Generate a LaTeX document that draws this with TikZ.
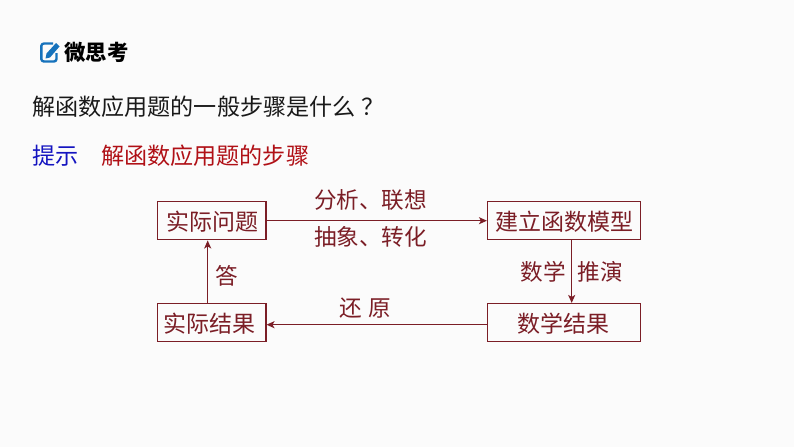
\documentclass[tikz,border=0pt]{standalone}
\usepackage{fontspec}
\setmainfont{Noto Sans CJK SC}
\usetikzlibrary{arrows.meta}
\definecolor{bgc}{HTML}{FBFBFB}
\definecolor{dred}{HTML}{7B1E26}
\definecolor{hintred}{HTML}{B01016}
\definecolor{hintblue}{HTML}{1414C0}
\definecolor{iconblue}{HTML}{1672BC}
\tikzset{
  x=1pt,y=-1pt,
  flowbox/.style={draw=dred,line width=1.5pt,minimum height=38pt,inner sep=0pt,anchor=center,text=dred,font=\fontsize{23}{23}\selectfont,text height=20pt,text depth=0pt},
  flowlabel/.style={text=dred,inner sep=0pt,font=\fontsize{22.6}{23}\selectfont,anchor=center},
  flowarrow/.style={draw=dred,line width=1.4pt,-{Stealth[length=8pt,width=7pt,inset=2pt]}},
  bodytext/.style={inner sep=0pt,anchor=west,font=\fontsize{23.1}{23}\selectfont}
}
\begin{document}
\begin{tikzpicture}
\useasboundingbox[fill=bgc] (0,0) rectangle (794,447);
% icon
\draw[iconblue,line width=2.4pt,line join=round] (53,43.5) -- (44,43.5) to[out=180,in=90] (41.3,46) -- (41.3,59) to[out=270,in=180] (44,61.5) -- (54,61.5) to[out=0,in=270] (56.5,59) -- (56.5,53);
\fill[iconblue] (56,43) -- (59.5,46.5) -- (50,57.5) -- (45.5,58.5) -- (46.5,53.5) -- cycle;
% headings
\node[bodytext,font=\fontsize{21.4}{21}\selectfont\bfseries,text=black] (head) at (64,52) {微思考};
\node[bodytext,text=black!90] (question) at (32,107) {解函数应用题的一般步骤是什么\kern6pt？};
\node[bodytext,text=hintblue] (hint) at (32,156) {提示};
\node[bodytext,text=hintred] (hintbody) at (101,156) {解函数应用题的步骤};
% boxes
\node[flowbox,minimum width=108.5pt] (problem) at (211.5,220.7) {\kern1pt 实际问题};
\node[flowbox,minimum width=152.6pt] (model) at (564,220.7) {\kern1pt 建立函数模型};
\node[flowbox,minimum width=152.6pt] (mathres) at (564,322.7) {数学结果\kern1pt};
\node[flowbox,minimum width=108.5pt] (result) at (211.5,322.7) {实际结果\kern4pt};
% connector anchors
\coordinate (vleft) at (207.7,270);
\coordinate (vright) at (571.7,270);
\coordinate (hbottom) at (400,324.7);
% connectors
\draw[flowarrow] (problem) -- (model);
\draw[flowarrow] (model.south -| vright) -- (mathres.north -| vright);
\draw[flowarrow] (mathres.west |- hbottom) -- (result.east |- hbottom);
\draw[flowarrow] (result.north -| vleft) -- (problem.south -| vleft);
% labels
\node[flowlabel] (l1) at (370.5,200) {分析、联想};
\node[flowlabel] (l2) at (370.5,237) {抽象、转化};
\node[flowlabel] (l3) at (227,276) {答};
\node[flowlabel] (l4) at (365.5,308) {还\kern6pt 原};
\node[flowlabel] (l5) at (543,272) {数学};
\node[flowlabel] (l6) at (600,272) {推演};
\end{tikzpicture}
\end{document}
